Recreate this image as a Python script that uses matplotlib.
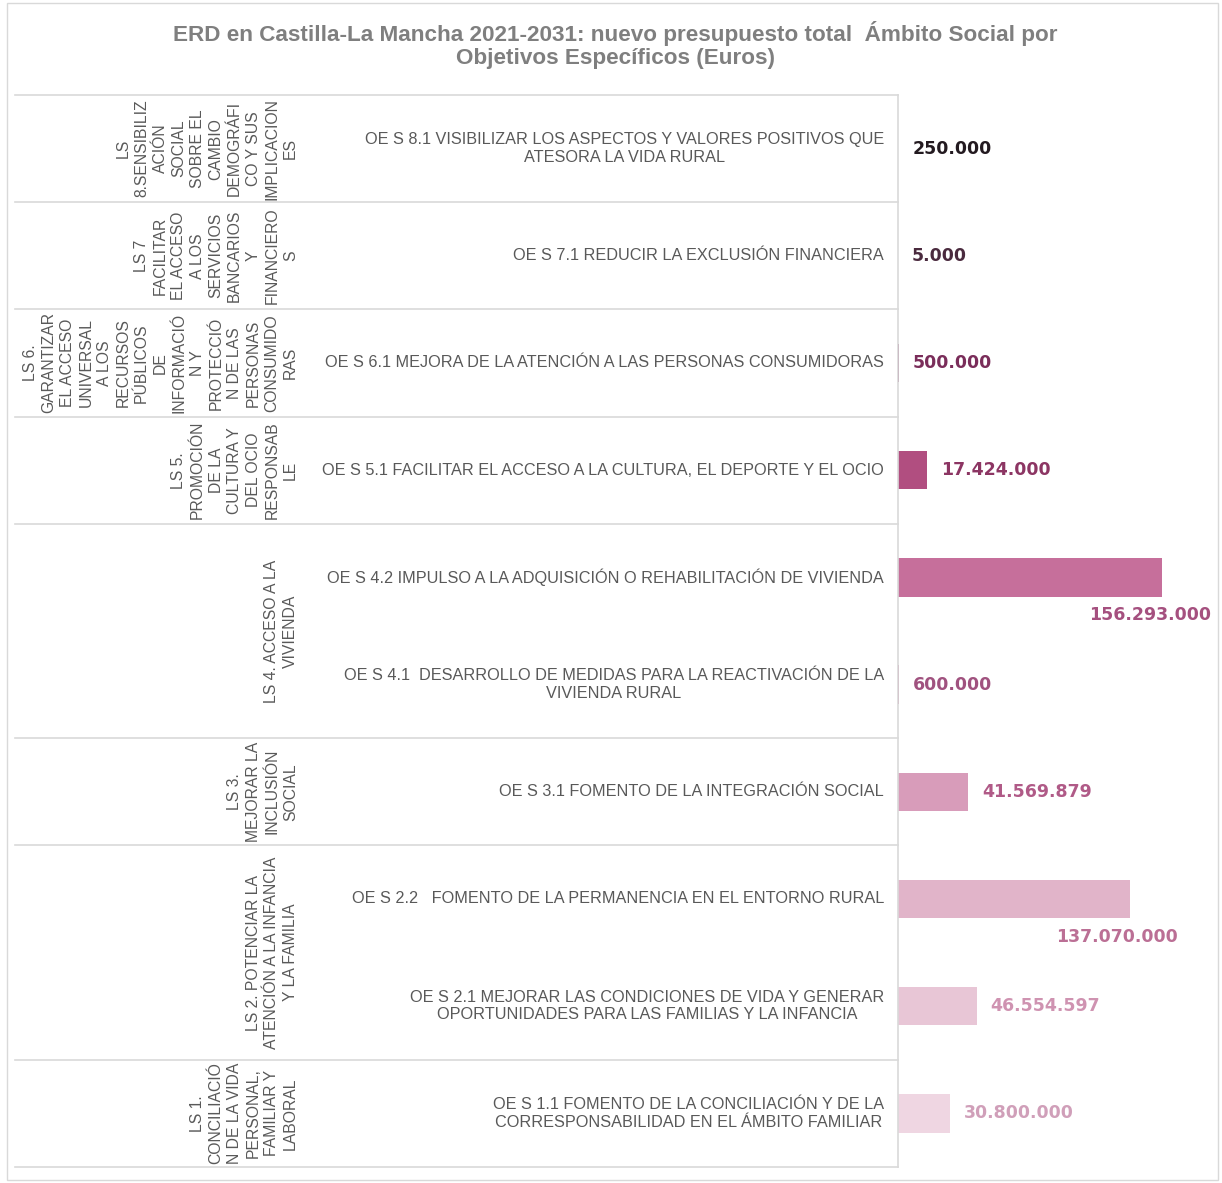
import matplotlib.pyplot as plt
from matplotlib.transforms import blended_transform_factory
from matplotlib.patches import Rectangle

# Lineas (LS), grouped top to bottom, with how many objectives each has
ls_labels = [
    "LS\n8.SENSIBILIZ\nACIÓN\nSOCIAL\nSOBRE EL\nCAMBIO\nDEMOGRÁFI\nCO Y SUS\nIMPLICACION\nES",
    "LS 7\nFACILITAR\nEL ACCESO\nA LOS\nSERVICIOS\nBANCARIOS\nY\nFINANCIERO\nS",
    "LS 6.\nGARANTIZAR\nEL ACCESO\nUNIVERSAL\nA LOS\nRECURSOS\nPÚBLICOS\nDE\nINFORMACIÓ\nN Y\nPROTECCIÓ\nN DE LAS\nPERSONAS\nCONSUMIDO\nRAS",
    "LS 5.\nPROMOCIÓN\nDE LA\nCULTURA Y\nDEL OCIO\nRESPONSAB\nLE",
    "LS 4. ACCESO A LA\nVIVIENDA",
    "LS 3.\nMEJORAR LA\nINCLUSIÓN\nSOCIAL",
    "LS 2. POTENCIAR LA\nATENCIÓN A LA INFANCIA\nY LA FAMILIA",
    "LS 1.\nCONCILIACIÓ\nN DE LA VIDA\nPERSONAL,\nFAMILIAR Y\nLABORAL",
]
ls_sizes = [1, 1, 1, 1, 2, 1, 2, 1]

# Objetivos especificos (OE), top to bottom
oe_labels = [
    "OE S 8.1 VISIBILIZAR LOS ASPECTOS Y VALORES POSITIVOS QUE\nATESORA LA VIDA RURAL",
    "OE S 7.1 REDUCIR LA EXCLUSIÓN FINANCIERA",
    "OE S 6.1 MEJORA DE LA ATENCIÓN A LAS PERSONAS CONSUMIDORAS",
    "OE S 5.1 FACILITAR EL ACCESO A LA CULTURA, EL DEPORTE Y EL OCIO",
    "OE S 4.2 IMPULSO A LA ADQUISICIÓN O REHABILITACIÓN DE VIVIENDA",
    "OE S 4.1  DESARROLLO DE MEDIDAS PARA LA REACTIVACIÓN DE LA\nVIVIENDA RURAL",
    "OE S 3.1 FOMENTO DE LA INTEGRACIÓN SOCIAL",
    "OE S 2.2   FOMENTO DE LA PERMANENCIA EN EL ENTORNO RURAL",
    "OE S 2.1 MEJORAR LAS CONDICIONES DE VIDA Y GENERAR\nOPORTUNIDADES PARA LAS FAMILIAS Y LA INFANCIA",
    "OE S 1.1 FOMENTO DE LA CONCILIACIÓN Y DE LA\nCORRESPONSABILIDAD EN EL ÁMBITO FAMILIAR",
]
values = [250000, 5000, 500000, 17424000, 156293000, 600000,
          41569879, 137070000, 46554597, 30800000]

bar_colors = ["#3a1f30", "#5a2a46", "#8a2f62", "#b14e80", "#c66f9b", "#c66f9b",
              "#d89cba", "#e1b4c9", "#e8c6d6", "#efd6e2"]
label_colors = ["#231a20", "#4a2a3e", "#7a2d5a", "#8c3563", "#a5507f", "#a0527f",
                "#b05a87", "#bb6f95", "#cf93b1", "#d09fb9"]

W, H = 1222, 1183
fig = plt.figure(figsize=(W / 100, H / 100), dpi=100)

# outer chart border
fig.patches.append(Rectangle((7 / W, 3 / H), 1211 / W, 1177 / H, transform=fig.transFigure,
                             fill=False, edgecolor="#d9d9d9", linewidth=1))

x0, x1 = 898, 1210
y_top, y_bot = 95, 1167
ax = fig.add_axes([x0 / W, 1 - y_bot / H, (x1 - x0) / W, (y_bot - y_top) / H])

n = len(values)
pos = list(range(n))
ax.barh(pos, values, height=0.36, color=bar_colors)
ax.set_xlim(0, 184.6e6)
ax.set_ylim(n - 0.5, -0.5)
ax.axis("off")
ax.plot([0, 0], [-0.5, n - 0.5], color="#d9d9d9", linewidth=1.2, clip_on=False)


def fmt(v):
    return f"{v:,}".replace(",", ".")


big = max(values) * 0.7
for p, v, c in zip(pos, values, label_colors):
    if v > big:
        # long bars: label sits just under the bar end
        ax.annotate(fmt(v), (v, p + 0.18), xytext=(-9, -7), textcoords="offset points",
                    ha="center", va="top", fontsize=12.5, fontweight="bold", color=c)
    else:
        ax.annotate(fmt(v), (v, p), xytext=(10, 0), textcoords="offset points",
                    ha="left", va="center", fontsize=12.5, fontweight="bold", color=c)

tr = blended_transform_factory(fig.transFigure, ax.transData)
txt_font = ["Liberation Sans", "DejaVu Sans"]
gray = "#595959"

for p, lab in zip(pos, oe_labels):
    ax.text(884 / W, p, lab, transform=tr, ha="right", va="center", multialignment="center",
            fontsize=11.7, color=gray, family=txt_font, linespacing=1.2)

start = 0
bounds = [-0.5]
for lab, s in zip(ls_labels, ls_sizes):
    mid = start + (s - 1) / 2
    ax.text(298 / W, mid, lab, transform=tr, rotation=90, ha="right", va="center",
            multialignment="center", fontsize=11.3, color=gray, family=txt_font,
            linespacing=1.3)
    start += s
    bounds.append(start - 0.5)

for b in bounds:
    ax.plot([15 / W, x0 / W], [b, b], transform=tr, color="#d9d9d9", linewidth=1.2,
            clip_on=False)

fig.text(615 / W, 1 - 45 / H,
         "ERD en Castilla-La Mancha 2021-2031: nuevo presupuesto total  Ámbito Social por\nObjetivos Específicos (Euros)",
         ha="center", va="center", multialignment="center", fontsize=16.2, fontweight="bold",
         color="#7f7f7f", family=txt_font, linespacing=1.15)

fig.savefig("out.png", dpi=100, facecolor="white")
